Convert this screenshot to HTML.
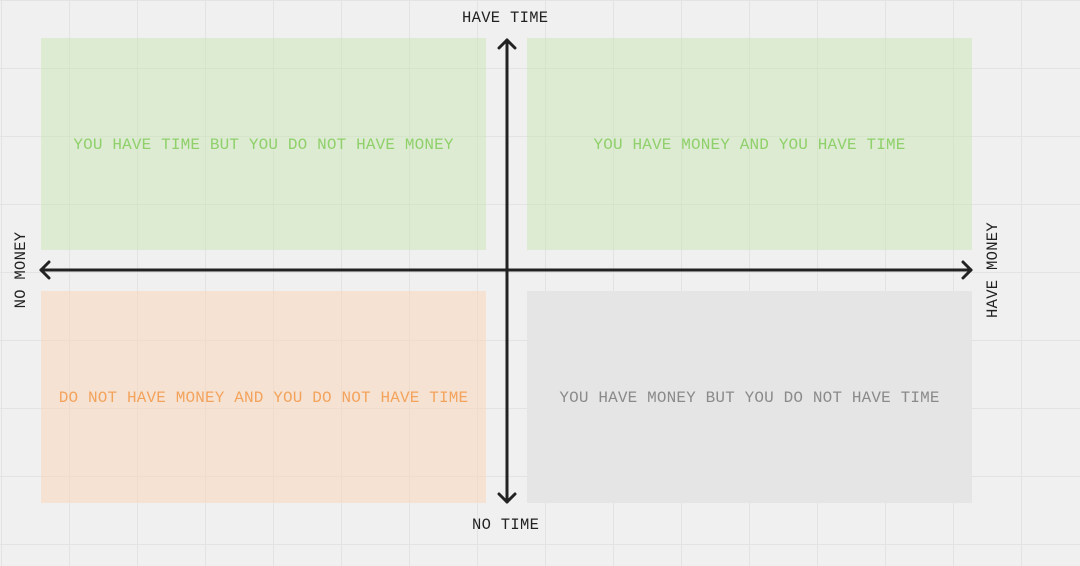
<!DOCTYPE html>
<html><head><style>
html,body{margin:0;padding:0;}
body{width:1080px;height:566px;overflow:hidden;background:#f0f0f0;position:relative;font-family:"Liberation Mono",monospace;
background-image:linear-gradient(to right,#e3e3e3 1px,transparent 1px),linear-gradient(to bottom,#e3e3e3 1px,transparent 1px);
background-size:68px 68px;background-position:1px 0px;}
.b{position:absolute;display:flex;align-items:center;justify-content:center;font-size:16px;letter-spacing:0.15px;white-space:nowrap;padding-top:2px;box-sizing:border-box;}
.l{position:absolute;font-size:15.5px;letter-spacing:0.3px;color:#222;white-space:nowrap;}
</style></head><body>
<div class="b" style="left:41px;top:38px;width:445px;height:212px;background:rgba(200,230,180,0.5);color:#8fd06a;">YOU HAVE TIME BUT YOU DO NOT HAVE MONEY</div>
<div class="b" style="left:527px;top:38px;width:445px;height:212px;background:rgba(200,230,180,0.5);color:#8fd06a;">YOU HAVE MONEY AND YOU HAVE TIME</div>
<div class="b" style="left:41px;top:291px;width:445px;height:212px;background:rgba(250,215,185,0.55);color:#f4a35c;">DO NOT HAVE MONEY AND YOU DO NOT HAVE TIME</div>
<div class="b" style="left:527px;top:291px;width:445px;height:212px;background:#e5e5e5;color:#8a8a8a;">YOU HAVE MONEY BUT YOU DO NOT HAVE TIME</div>
<svg width="1080" height="566" style="position:absolute;left:0;top:0">
<g stroke="#222" stroke-width="3" fill="none" stroke-linecap="round" stroke-linejoin="round">
<line x1="507" y1="40" x2="507" y2="502"/>
<line x1="41" y1="270" x2="971" y2="270"/>
<polyline points="499,48 507,40 515,48"/>
<polyline points="499,494 507,502 515,494"/>
<polyline points="49,262 41,270 49,278"/>
<polyline points="963,262 971,270 963,278"/>
</g></svg>
<div class="l" style="left:462px;top:9px;">HAVE TIME</div>
<div class="l" style="left:472px;top:516px;">NO TIME</div>
<div class="l" style="left:21px;top:270px;transform:translate(-50%,-50%) rotate(-90deg);">NO MONEY</div>
<div class="l" style="left:993px;top:270px;transform:translate(-50%,-50%) rotate(-90deg);">HAVE MONEY</div>
</body></html>
